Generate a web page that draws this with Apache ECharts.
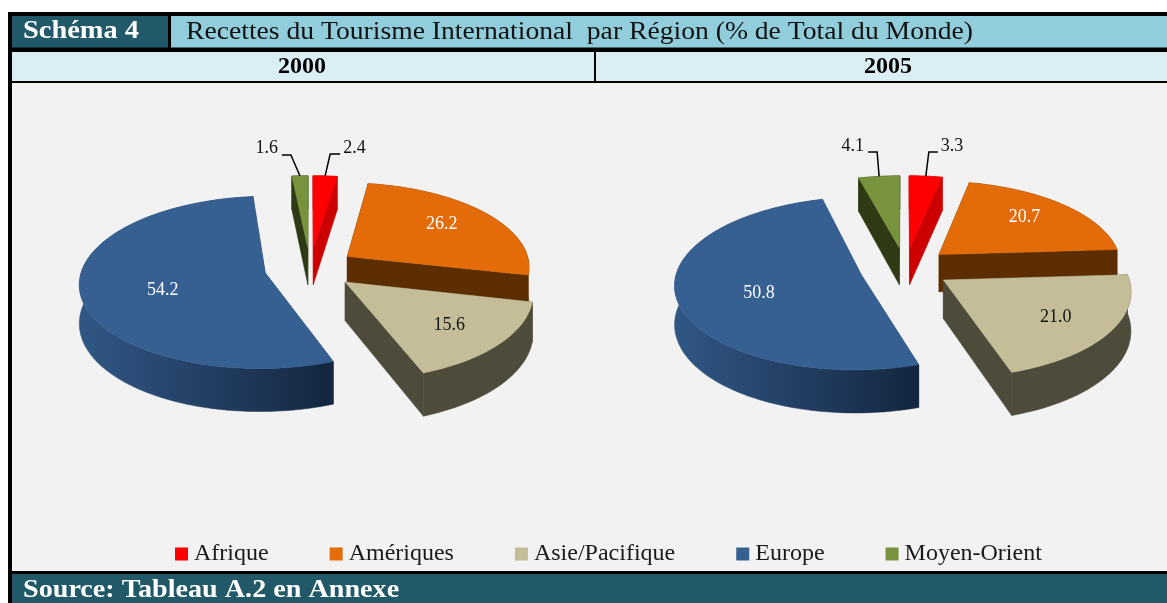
<!DOCTYPE html>
<html>
<head>
<meta charset="utf-8">
<style>html,body{margin:0;padding:0;background:#fff}#c{width:1167px;height:603px}</style>
<script src="https://cdn.jsdelivr.net/npm/echarts@6/dist/echarts.min.js"></script>
</head>
<body>
<div id="c"></div>
<script>
const regions = ['Afrique', 'Amériques', 'Asie/Pacifique', 'Europe', 'Moyen-Orient'];
const years = ['2000', '2005'];
const values2000 = [2.4, 26.2, 15.6, 54.2, 1.6];
const values2005 = [3.3, 20.7, 21.0, 50.8, 4.1];
const titleTag = 'Schéma 4';
const titleText = 'Recettes du Tourisme International  par Région (% de Total du Monde)';
const sourceText = 'Source: Tableau A.2 en Annexe';

const serif = '"Liberation Serif", serif';
const topColors = ['#ff0000', '#e36c09', '#c4bd97', '#376092', '#77933c'];
const wallColors = ['#cc0000', '#5c2d00', '#4f4b3a',
  {type:'linear',x:0,y:0,x2:1,y2:0,colorStops:[{offset:0,color:'#305784'},{offset:.5,color:'#233f64'},{offset:1,color:'#14263f'}]},
  '#2e3a14'];
const labelColors = ['#111', '#fff', '#111', '#fff', '#111'];
const labelReach = [0, .67, .69, .56, 0];
const labelLift = [0, -3, 2, 6, 0];
const drawOrder = [4, 0, 1, 3, 2];
// projection of the tilted pies
const pies = [
  {cx: 310, cy: 268, leaders: {0: {ex: 5, ey: 154, run: 10, tx: 3, ty: -6}, 4: {ex: -9, ey: 155, run: -9, tx: -4, ty: -7}}},
  {cx: 905, cy: 268, leaders: {0: {ex: 3, ey: 152, run: 9, tx: 3, ty: -6}, 4: {ex: -2, ey: 152, run: -9, tx: -4, ty: -6}}}
];
const rx = 183, ry = 84, persp = .11, explode = .25, depth = 38;

const rows = [values2000, values2005];
function project(p, u, v) {
  const s = 1 / (1 - persp * v);
  return [p.cx + rx * u * s, p.cy + ry * v * s, depth * s];
}
function point(p, mid, ang, f) {
  const u = explode * Math.sin(mid) + f * Math.sin(ang);
  const v = -explode * Math.cos(mid) - f * Math.cos(ang);
  return project(p, u, v);
}
function drop(pt) { return [pt[0], pt[1] + pt[2]]; }

function renderSlice(r) {
  return function (params, api) {
    const y = api.value(0), vals = rows[y], p = pies[y];
    const sum = vals.reduce((a, b) => a + b, 0);
    let acc = 0;
    for (let i = 0; i < r; i++) acc += vals[i];
    const a0 = acc / sum * 2 * Math.PI, a1 = (acc + vals[r]) / sum * 2 * Math.PI, mid = (a0 + a1) / 2;
    const n = Math.max(2, Math.ceil((a1 - a0) / (Math.PI / 90)));
    const arc = [];
    for (let i = 0; i <= n; i++) arc.push(point(p, mid, a0 + (a1 - a0) * i / n, 1));
    const apex = point(p, mid, 0, 0);
    const plain = q => [q[0], q[1]];
    const top = [plain(apex)].concat(arc.map(plain));
    const wall = arc.map(plain).concat(arc.slice().reverse().map(drop));
    const ch = [];
    const wallStyle = {fill: wallColors[r], stroke: wallColors[r], lineWidth: .5};
    const first = arc[0], last = arc[n];
    ch.push({type: 'polygon', shape: {points: [plain(apex), plain(first), drop(first), drop(apex)]}, style: wallStyle});
    ch.push({type: 'polygon', shape: {points: [plain(apex), plain(last), drop(last), drop(apex)]}, style: wallStyle});
    ch.push({type: 'polygon', shape: {points: wall}, style: wallStyle});
    ch.push({type: 'polygon', shape: {points: top}, style: {fill: topColors[r], stroke: topColors[r], lineWidth: .5}});
    const txt = api.value(1).toFixed(1);
    const lead = p.leaders[r];
    if (lead) {
      const b = point(p, mid, mid, 1);
      const ex = b[0] + lead.ex, ex2 = ex + lead.run;
      ch.push({type: 'polyline', shape: {points: [[b[0], b[1]], [ex, lead.ey], [ex2, lead.ey]]}, style: {stroke: '#000', lineWidth: 1.5, fill: 'none'}});
      ch.push({type: 'text', style: {text: txt, x: ex2 + lead.tx, y: lead.ey + lead.ty, fill: labelColors[r], font: '18px ' + serif, align: lead.run > 0 ? 'left' : 'right', verticalAlign: 'middle'}});
    } else {
      const c = point(p, mid, mid, labelReach[r]);
      ch.push({type: 'text', style: {text: txt, x: c[0], y: c[1] + labelLift[r], fill: labelColors[r], font: '18px ' + serif, align: 'center', verticalAlign: 'middle'}});
    }
    return {type: 'group', children: ch};
  };
}

const series = regions.map((name, r) => ({
  name, type: 'custom', coordinateSystem: 'none', silent: true,
  z: 3 + drawOrder.indexOf(r),
  itemStyle: {color: topColors[r]},
  renderItem: renderSlice(r),
  data: years.map((yr, y) => [y, rows[y][r]])
}));

function band(x, y, w, h, fill) { return {type: 'rect', silent: true, z: 0, shape: {x, y, width: w, height: h}, style: {fill}}; }
function label(text, x, y, font, fill, align, stretch) {
  return {type: 'text', silent: true, z: 2, x, y, scaleX: stretch || 1, style: {text, x: 0, y: 0, font, fill, align: align || 'left', verticalAlign: 'middle'}};
}

const chart = echarts.init(document.getElementById('c'), null, {renderer: 'canvas'});
chart.setOption({
  animation: false,
  backgroundColor: '#ffffff',
  legend: {
    left: 175, top: 542, padding: 0, itemWidth: 13, itemHeight: 13, itemGap: 61, icon: 'rect', selectedMode: false,
    data: regions,
    textStyle: {fontFamily: serif, fontSize: 24, color: '#1a1a1a', padding: [3, 0, 0, 1]}
  },
  graphic: {elements: [
    band(8, 12, 1159, 591, '#000000'),
    band(12, 16, 156, 31.5, '#215968'),
    band(171, 16, 996, 31.5, '#92cddc'),
    band(12, 52, 582, 29, '#daeef3'),
    band(596, 52, 571, 29, '#daeef3'),
    band(12, 83, 1155, 488, '#f2f2f2'),
    band(12, 574, 1155, 29, '#215968'),
    label(titleTag, 23, 32, 'bold 25px ' + serif, '#ffffff', 'left', 1.137),
    label(titleText, 186, 32, '25px ' + serif, '#111111', 'left', 1.105),
    label(years[0], 302, 67, 'bold 24px ' + serif, '#000000', 'center'),
    label(years[1], 888, 67, 'bold 24px ' + serif, '#000000', 'center'),
    label(sourceText, 23, 591, 'bold 25px ' + serif, '#ffffff', 'left', 1.126)
  ]},
  series
});
</script>
</body>
</html>
